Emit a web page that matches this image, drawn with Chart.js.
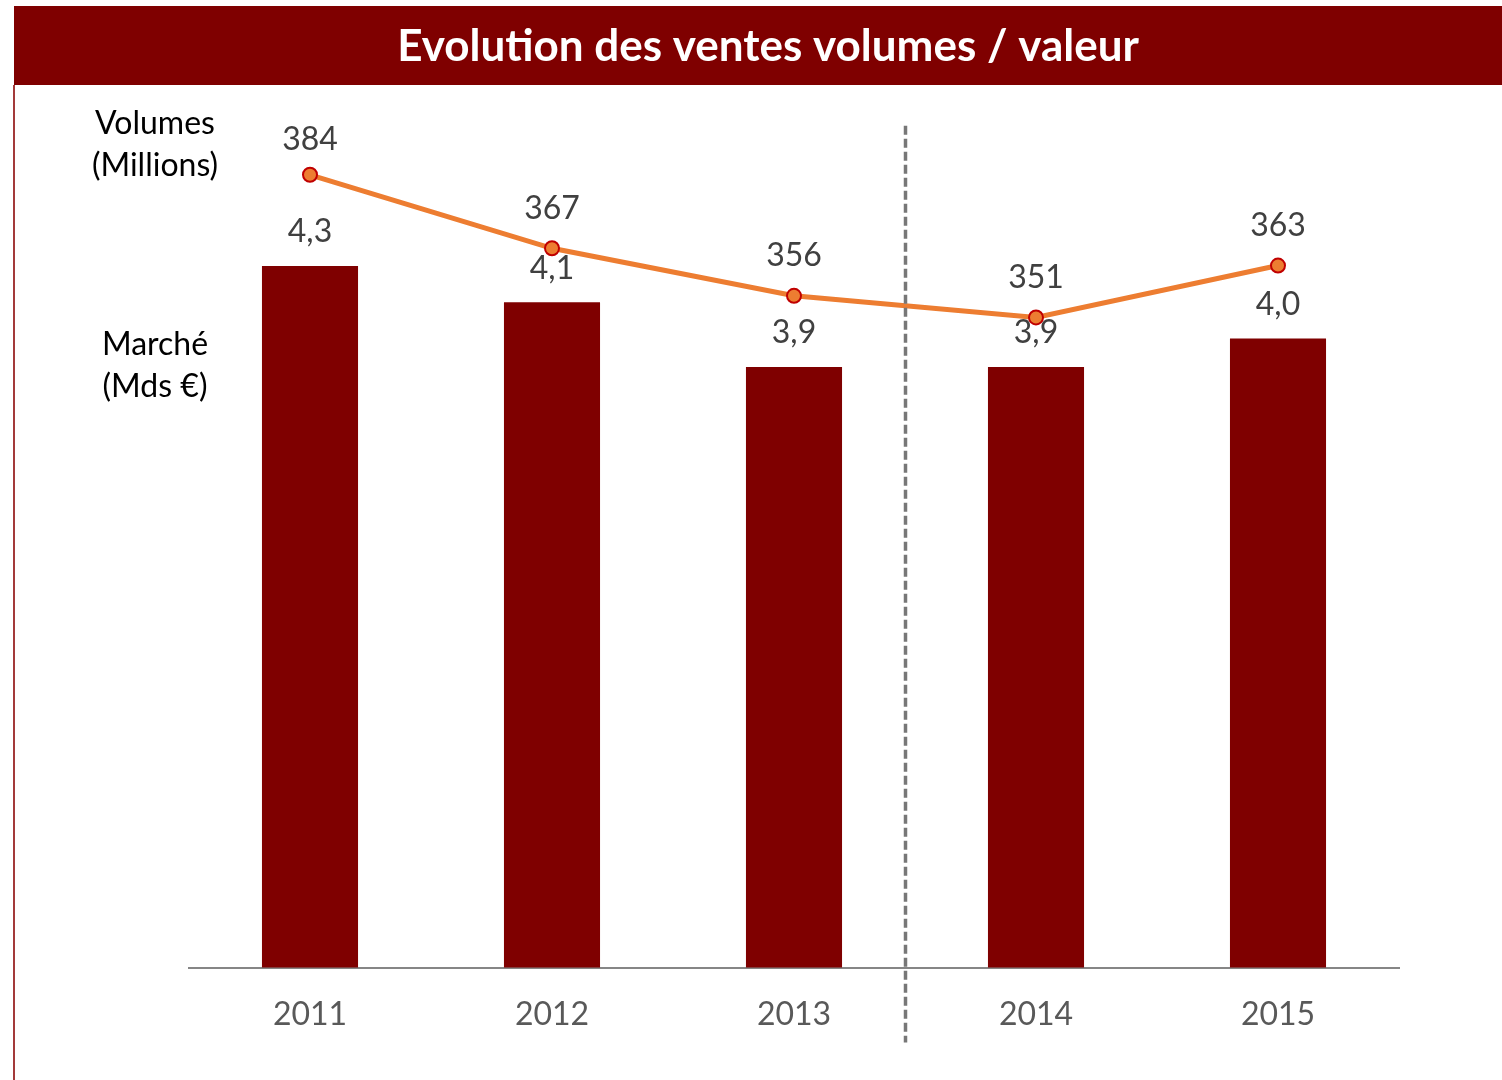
<!DOCTYPE html>
<html lang="fr">
<head>
<meta charset="utf-8">
<title>Evolution des ventes volumes / valeur</title>
<script src="https://cdn.jsdelivr.net/npm/chart.js@4.4.1/dist/chart.umd.min.js"></script>
<style>
  html, body { margin: 0; padding: 0; background: #fff; }
  canvas { display: block; }
</style>
</head>
<body>
<canvas id="ventesChart" width="1502" height="1080"></canvas>
<script>
const years = ['2011', '2012', '2013', '2014', '2015'];
const marcheMds = [4.28, 4.14, 3.89, 3.89, 4.00];
const volumesMillions = [384, 367, 356, 351, 363];
const titleText = 'Evolution des ventes volumes / valeur';

const FONT = 'Lato, "Liberation Sans", sans-serif';
const fmtDec = v => v.toFixed(1).replace('.', ',');

// title bar + left border
const frame = {
    id: 'frame',
    beforeDraw(chart) {
        const ctx = chart.ctx;
        ctx.save();
        ctx.fillStyle = '#7f0000';
        ctx.fillRect(14, 6, chart.width - 14, 79);
        ctx.fillStyle = '#a33a3a';
        ctx.fillRect(13, 85, 2, chart.height - 85);
        ctx.restore();
    }
};

// value labels, side captions and the dashed separator
const annotations = {
    id: 'annotations',
    afterDatasetsDraw(chart) {
        const ctx = chart.ctx;
        const area = chart.chartArea;
        const x = chart.scales.x;
        ctx.save();

        const sepX = Math.round(x.getPixelForValue(2) + 0.46 * (x.getPixelForValue(3) - x.getPixelForValue(2))) + 0.5;
        ctx.strokeStyle = '#777';
        ctx.lineWidth = 3.5;
        ctx.setLineDash([9, 4]);
        ctx.beginPath();
        ctx.moveTo(sepX, area.top + 15);
        ctx.lineTo(sepX, area.bottom + 75);
        ctx.stroke();
        ctx.setLineDash([]);

        ctx.font = '32px ' + FONT;
        ctx.textAlign = 'center';
        ctx.textBaseline = 'middle';
        ctx.fillStyle = '#404040';
        chart.getDatasetMeta(0).data.forEach((bar, i) => {
            ctx.fillText(fmtDec(marcheMds[i]), bar.x, bar.y - 34);
        });
        chart.getDatasetMeta(1).data.forEach((pt, i) => {
            ctx.fillText(String(volumesMillions[i]), pt.x, pt.y - (i === 0 ? 35 : 40));
        });

        ctx.fillStyle = '#000';
        const cx = area.left - 34;
        ctx.fillText('Volumes', cx, area.top + 13);
        ctx.fillText('(Millions)', cx, area.top + 55);
        ctx.fillText('Marché', cx, area.top + 234);
        ctx.fillText('(Mds €)', cx, area.top + 276);
        ctx.restore();
    }
};

new Chart(document.getElementById('ventesChart'), {
    data: {
        labels: years,
        datasets: [
            {
                type: 'bar',
                label: 'Marché (Mds €)',
                data: marcheMds,
                yAxisID: 'y',
                backgroundColor: '#7f0000',
                categoryPercentage: 1,
                barPercentage: 0.397,
                order: 2
            },
            {
                type: 'line',
                label: 'Volumes (Millions)',
                data: volumesMillions,
                yAxisID: 'y1',
                borderColor: '#ed7d31',
                borderWidth: 5,
                pointRadius: 7,
                pointBackgroundColor: '#ed7d31',
                pointBorderColor: '#c00000',
                pointBorderWidth: 2,
                tension: 0,
                order: 1
            }
        ]
    },
    options: {
        responsive: false,
        animation: false,
        layout: { padding: { left: 34, right: 0, top: 0, bottom: 18 } },
        plugins: {
            legend: { display: false },
            tooltip: { enabled: false },
            title: {
                display: true,
                text: titleText,
                color: '#fff',
                font: { family: FONT, size: 44, weight: 'bold' },
                padding: { top: 20, bottom: 38 }
            }
        },
        scales: {
            x: {
                grid: { display: false, drawTicks: false },
                border: { display: true, color: '#868686', width: 2 },
                ticks: { color: '#595959', padding: 28, font: { family: FONT, size: 32 } }
            },
            y: {
                position: 'left',
                min: 1.57,
                max: 4.88,
                grid: { display: false },
                border: { display: false },
                ticks: { display: false },
                afterFit: s => { s.width = 155; }
            },
            y1: {
                position: 'right',
                min: 200.6,
                max: 398.8,
                grid: { display: false },
                border: { display: false },
                ticks: { display: false },
                afterFit: s => { s.width = 103; }
            }
        }
    },
    plugins: [frame, annotations]
});
</script>
</body>
</html>
